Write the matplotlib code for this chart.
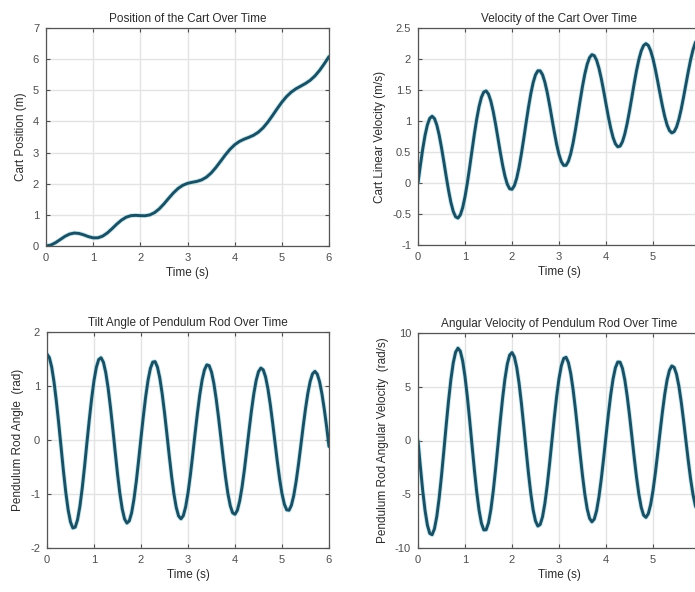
import matplotlib
matplotlib.use("Agg")
import matplotlib.pyplot as plt

# time samples (s)
time_s = [round(0.05 * k, 2) for k in range(121)]   # every 0.05 s
time_pos = time_s[::2]                              # every 0.1 s

# values
cart_pos = [0.000, 0.028, 0.104, 0.206, 0.308, 0.383, 0.416, 0.403, 0.358, 0.301,
            0.262, 0.263, 0.316, 0.418, 0.555, 0.702, 0.831, 0.925, 0.974, 0.984,
            0.975, 0.972, 0.998, 1.070, 1.191, 1.351, 1.531, 1.703, 1.847, 1.949,
            2.011, 2.046, 2.075, 2.123, 2.209, 2.342, 2.517, 2.717, 2.921, 3.104,
            3.251, 3.357, 3.430, 3.489, 3.556, 3.653, 3.791, 3.972, 4.184, 4.407,
            4.618, 4.799, 4.942, 5.049, 5.133, 5.217, 5.320, 5.458, 5.638, 5.851,
            6.082]

cart_vel = [0.000, 0.283, 0.546, 0.769, 0.938, 1.043, 1.077, 1.040, 0.936, 0.775,
            0.571, 0.342, 0.105, -0.119, -0.313, -0.458, -0.545, -0.566, -0.516, -0.399,
            -0.222, 0.002, 0.258, 0.528, 0.794, 1.035, 1.236, 1.384, 1.468, 1.485,
            1.433, 1.320, 1.155, 0.952, 0.727, 0.500, 0.289, 0.111, -0.020, -0.093,
            -0.102, -0.043, 0.078, 0.253, 0.472, 0.717, 0.972, 1.218, 1.439, 1.619,
            1.745, 1.810, 1.809, 1.746, 1.625, 1.458, 1.256, 1.039, 0.823, 0.623,
            0.460, 0.343, 0.284, 0.285, 0.351, 0.474, 0.648, 0.859, 1.092, 1.331,
            1.559, 1.759, 1.917, 2.023, 2.070, 2.054, 1.980, 1.852, 1.683, 1.486,
            1.276, 1.070, 0.885, 0.735, 0.632, 0.584, 0.595, 0.666, 0.791, 0.960,
            1.163, 1.383, 1.606, 1.815, 1.994, 2.132, 2.218, 2.248, 2.218, 2.134,
            2.003, 1.833, 1.640, 1.438, 1.244, 1.072, 0.935, 0.846, 0.808, 0.828,
            0.902, 1.026, 1.190, 1.384, 1.590, 1.796, 1.986, 2.145, 2.262, 2.329,
            2.344]

rod_angle = [1.590, 1.527, 1.350, 1.071, 0.712, 0.303, -0.136, -0.576, -0.971, -1.294,
             -1.519, -1.630, -1.614, -1.476, -1.228, -0.888, -0.484, -0.045, 0.377, 0.768,
             1.100, 1.347, 1.491, 1.523, 1.441, 1.249, 0.965, 0.609, 0.207, -0.214,
             -0.626, -0.988, -1.274, -1.462, -1.538, -1.500, -1.350, -1.097, -0.764, -0.373,
             0.041, 0.441, 0.805, 1.108, 1.326, 1.443, 1.452, 1.350, 1.149, 0.860,
             0.509, 0.120, -0.284, -0.665, -0.996, -1.250, -1.408, -1.460, -1.402, -1.238,
             -0.981, -0.652, -0.277, 0.117, 0.495, 0.834, 1.109, 1.298, 1.392, 1.377,
             1.260, 1.049, 0.759, 0.414, 0.039, -0.342, -0.697, -0.997, -1.220, -1.350,
             -1.376, -1.302, -1.129, -0.871, -0.550, -0.187, 0.185, 0.541, 0.855, 1.102,
             1.266, 1.332, 1.300, 1.170, 0.951, 0.662, 0.324, -0.037, -0.396, -0.723,
             -0.994, -1.189, -1.294, -1.301, -1.209, -1.028, -0.770, -0.455, -0.107, 0.247,
             0.578, 0.866, 1.087, 1.226, 1.271, 1.220, 1.078, 0.854, 0.568, 0.241,
             -0.120]

rod_angvel = [0.000, -2.416, -4.645, -6.511, -7.875, -8.643, -8.766, -8.212, -7.057, -5.365,
              -3.279, -0.957, 1.433, 3.700, 5.682, 7.223, 8.216, 8.594, 8.310, 7.411,
              5.952, 4.056, 1.862, -0.467, -2.752, -4.817, -6.510, -7.707, -8.320, -8.303,
              -7.658, -6.440, -4.745, -2.699, -0.456, 1.811, 3.928, 5.739, 7.115, 7.944,
              8.180, 7.787, 6.817, 5.339, 3.462, 1.335, -0.888, -3.028, -4.934, -6.463,
              -7.488, -7.958, -7.813, -7.088, -5.835, -4.145, -2.147, 0.000, 2.137, 4.107,
              5.756, 6.959, 7.636, 7.743, 7.252, 6.230, 4.735, 2.893, 0.844, -1.264,
              -3.262, -5.008, -6.365, -7.237, -7.568, -7.316, -6.523, -5.237, -3.568, -1.638,
              0.410, 2.419, 4.232, 5.717, 6.767, 7.304, 7.286, 6.718, 5.648, 4.160,
              2.366, 0.399, -1.586, -3.440, -5.024, -6.227, -6.950, -7.154, -6.808, -5.958,
              -4.665, -3.024, -1.166, 0.775, 2.643, 4.304, 5.636, 6.528, 6.935, 6.806,
              6.173, 5.080, 3.607, 1.868, 0.000, -1.858, -3.569, -5.000, -6.044, -6.630,
              -6.720]

titles = ["Position of the Cart Over Time", "Velocity of the Cart Over Time",
          "Tilt Angle of Pendulum Rod Over Time", "Angular Velocity of Pendulum Rod Over Time"]
ylabels = ["Cart Position (m)", "Cart Linear Velocity (m/s)",
           "Pendulum Rod Angle  (rad)", "Pendulum Rod Angular Velocity  (rad/s)"]
ylims = [(0, 7), (-1, 2.5), (-2, 2), (-10, 10)]
yticks = [[0, 1, 2, 3, 4, 5, 6, 7],
          [-1, -0.5, 0, 0.5, 1, 1.5, 2, 2.5],
          [-2, -1, 0, 1, 2],
          [-10, -5, 0, 5, 10]]
ytick_labels = [["0", "1", "2", "3", "4", "5", "6", "7"],
                ["-1", "-0.5", "0", "0.5", "1", "1.5", "2", "2.5"],
                ["-2", "-1", "0", "1", "2"],
                ["-10", "-5", "0", "5", "10"]]
# right column is cut at the picture edge, so its "6" never shows
xticks = [[0, 1, 2, 3, 4, 5, 6], [0, 1, 2, 3, 4, 5],
          [0, 1, 2, 3, 4, 5, 6], [0, 1, 2, 3, 4, 5]]

plt.rcParams['font.family'] = ['Liberation Sans', 'DejaVu Sans']

W, H = 695, 592
fig = plt.figure(figsize=(W / 100, H / 100), dpi=100)
fig.patch.set_facecolor('white')

# axes boxes in pixels: left, right, top, bottom (right column runs past the edge)
boxes = [(46, 329, 28, 246), (418, 700, 28, 245),
         (47, 329, 332, 548), (418, 700, 333, 548)]
xs = [time_pos, time_s, time_s, time_s]
series = [cart_pos, cart_vel, rod_angle, rod_angvel]

line_col = '#1b4f63'
txt_col = '#2b2b2b'
tick_col = '#4d4d4d'

for i in range(4):
    l, r, t, b = boxes[i]
    ax = fig.add_axes([l / W, 1 - b / H, (r - l) / W, (b - t) / H])
    ax.plot(xs[i], series[i], color='#8fd3e0', lw=3.4, alpha=0.5, solid_capstyle='round')
    ax.plot(xs[i], series[i], color=line_col, lw=2.1, solid_capstyle='round')
    ax.set_xlim(0, 6)
    ax.set_ylim(*ylims[i])
    ax.set_xticks(xticks[i])
    ax.set_xticklabels([str(v) for v in xticks[i]])
    ax.set_yticks(yticks[i])
    ax.set_yticklabels(ytick_labels[i])
    ax.grid(True, color='#e3e3e3', lw=1.0)
    ax.set_axisbelow(True)
    ax.tick_params(direction='in', top=True, right=True, length=3, width=0.8,
                   colors=tick_col, labelsize=8, pad=5)
    for sp in ax.spines.values():
        sp.set_color('#555555')
        sp.set_linewidth(0.9)
    ax.set_title(titles[i], fontsize=8.5, color=txt_col, pad=4)
    ax.set_xlabel("Time (s)", fontsize=8.5, color=txt_col, labelpad=3)
    ax.set_ylabel(ylabels[i], fontsize=8.5, color=txt_col, labelpad=4)

fig.savefig("out.png", dpi=100)
